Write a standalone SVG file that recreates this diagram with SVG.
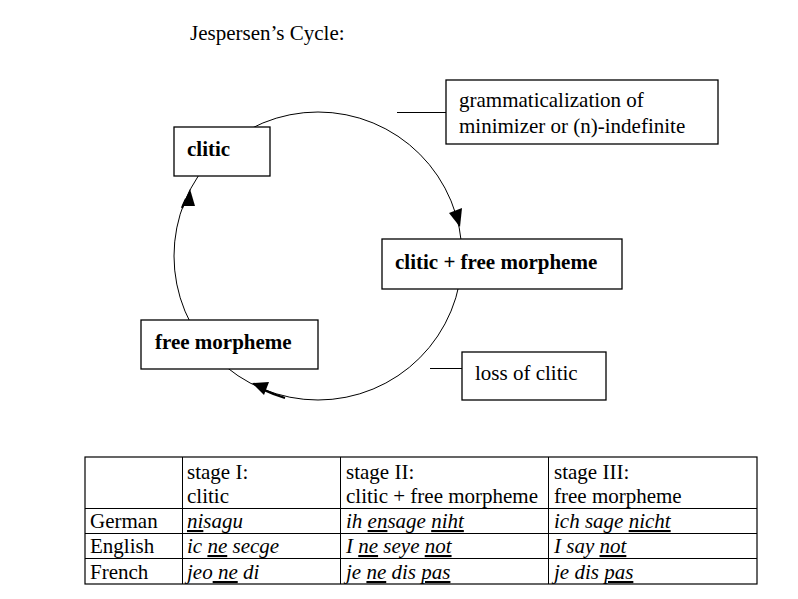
<svg xmlns="http://www.w3.org/2000/svg" width="798" height="599" viewBox="0 0 798 599">
<style>
text{font-family:"Liberation Serif","Times New Roman","DejaVu Serif",serif;fill:#000}
.t{font-size:21px}
.b{font-size:21px;font-weight:bold}
.n{font-size:21px}
.box{fill:#fff;stroke:#000;stroke-width:1.3}
.ln{stroke:#000;stroke-width:1;fill:none}
.i{font-style:italic}
.u{text-decoration:underline}
</style>
<rect width="798" height="599" fill="#fff"/>
<text class="t" x="190" y="40">Jespersen’s Cycle:</text>
<g id="connectors">
<circle cx="318" cy="256" r="144" class="ln" stroke-width="1.3"/>
<path d="M182,208 A144,144 0 0 1 186,199" stroke="#000" stroke-width="2.2" fill="none"/>
<path d="M285,398 A144,144 0 0 1 264,390" stroke="#000" stroke-width="2.2" fill="none"/>
<polygon points="460,227 449,213 462,208" fill="#000"/>
<polygon points="190,189 182,206 195,206" fill="#000"/>
<polygon points="252,383 269,382 264,395" fill="#000"/>
<line x1="397" y1="112.5" x2="446" y2="112.5" class="ln"/>
<line x1="430" y1="368.5" x2="462" y2="368.5" class="ln"/>
</g>
<g id="clitic"><rect class="box" x="174" y="127" width="96" height="49"/><text class="b" x="187" y="156">clitic</text></g>
<g id="clitic-free"><rect class="box" x="382" y="239" width="240" height="50"/><text class="b" x="395" y="269">clitic + free morpheme</text></g>
<g id="free"><rect class="box" x="141" y="320" width="177" height="49"/><text class="b" x="155" y="349">free morpheme</text></g>
<g id="gram"><rect class="box" x="446" y="80" width="272" height="64"/><text class="n" x="459" y="107">grammaticalization of</text><text class="n" x="459" y="133">minimizer or (n)-indefinite</text></g>
<g id="loss"><rect class="box" x="462" y="352" width="144" height="48"/><text class="n" x="475" y="380">loss of clitic</text></g>
<g id="table">
<rect x="85" y="457" width="672" height="127" fill="none" stroke="#000" stroke-width="1.2"/>
<g class="ln">
<line x1="182.5" y1="457" x2="182.5" y2="584"/>
<line x1="340.5" y1="457" x2="340.5" y2="584"/>
<line x1="548.5" y1="457" x2="548.5" y2="584"/>
<line x1="85" y1="508.5" x2="757" y2="508.5"/>
<line x1="85" y1="533.5" x2="757" y2="533.5"/>
<line x1="85" y1="558.5" x2="757" y2="558.5"/>
</g>
<text class="t" x="187" y="479">stage I:</text>
<text class="t" x="187" y="503">clitic</text>
<text class="t" x="346" y="479">stage II:</text>
<text class="t" x="346" y="503">clitic + free morpheme</text>
<text class="t" x="554" y="479">stage III:</text>
<text class="t" x="554" y="503">free morpheme</text>
<text class="t" x="90" y="528">German</text>
<text class="t" x="90" y="553">English</text>
<text class="t" x="90" y="579">French</text>
<text class="t i" x="187" y="528"><tspan class="u">ni</tspan>sagu</text>
<text class="t i" x="346" y="528">ih <tspan class="u">en</tspan>sage <tspan class="u">niht</tspan></text>
<text class="t i" x="554" y="528">ich sage <tspan class="u">nicht</tspan></text>
<text class="t i" x="187" y="553">ic <tspan class="u">ne</tspan> secge</text>
<text class="t i" x="346" y="553">I <tspan class="u">ne</tspan> seye <tspan class="u">not</tspan></text>
<text class="t i" x="554" y="553">I say <tspan class="u">not</tspan></text>
<text class="t i" x="187" y="579">jeo<tspan class="u"> ne</tspan> di</text>
<text class="t i" x="346" y="579">je <tspan class="u">ne</tspan> dis <tspan class="u">pas</tspan></text>
<text class="t i" x="554" y="579">je dis <tspan class="u">pas</tspan></text>
</g>
</svg>
